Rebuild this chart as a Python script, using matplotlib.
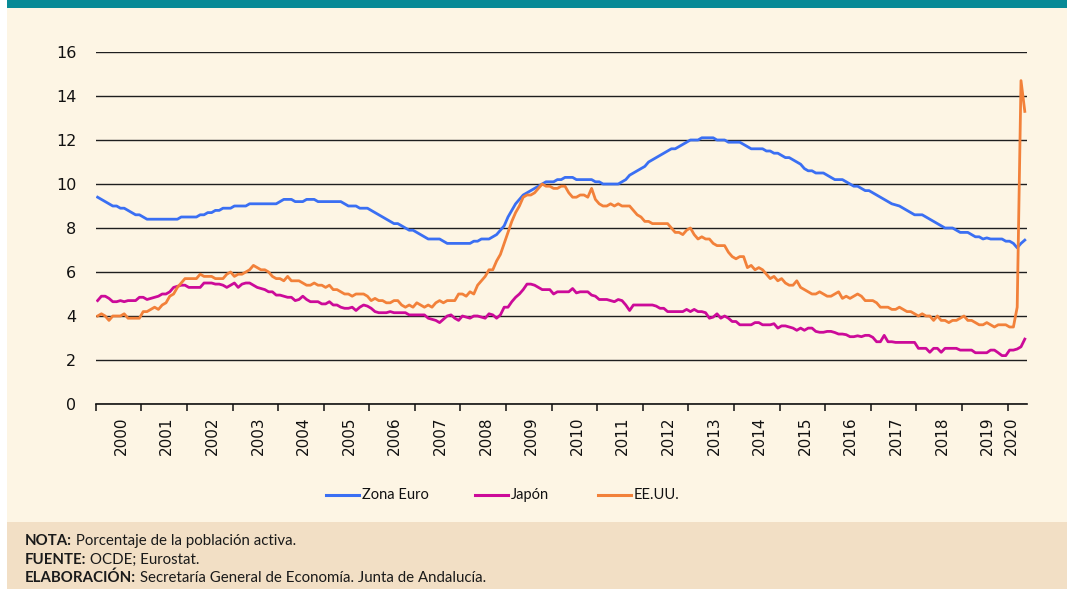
import numpy as np
import matplotlib
matplotlib.use("Agg")
import matplotlib.pyplot as plt
from matplotlib.lines import Line2D
from matplotlib.patches import Rectangle

# ── Data: monthly unemployment rate (% of labour force), Jan 2000 - May 2020 ──
zona_euro = [
    9.4, 9.3, 9.2, 9.1, 9.0, 9.0, 8.9, 8.9, 8.8, 8.7, 8.6, 8.6,        # 2000
    8.5, 8.4, 8.4, 8.4, 8.4, 8.4, 8.4, 8.4, 8.4, 8.4, 8.5, 8.5,        # 2001
    8.5, 8.5, 8.5, 8.6, 8.6, 8.7, 8.7, 8.8, 8.8, 8.9, 8.9, 8.9,        # 2002
    9.0, 9.0, 9.0, 9.0, 9.1, 9.1, 9.1, 9.1, 9.1, 9.1, 9.1, 9.1,        # 2003
    9.2, 9.3, 9.3, 9.3, 9.2, 9.2, 9.2, 9.3, 9.3, 9.3, 9.2, 9.2,        # 2004
    9.2, 9.2, 9.2, 9.2, 9.2, 9.1, 9.0, 9.0, 9.0, 8.9, 8.9, 8.9,        # 2005
    8.8, 8.7, 8.6, 8.5, 8.4, 8.3, 8.2, 8.2, 8.1, 8.0, 7.9, 7.9,        # 2006
    7.8, 7.7, 7.6, 7.5, 7.5, 7.5, 7.5, 7.4, 7.3, 7.3, 7.3, 7.3,        # 2007
    7.3, 7.3, 7.3, 7.4, 7.4, 7.5, 7.5, 7.5, 7.6, 7.7, 7.9, 8.1,        # 2008
    8.5, 8.8, 9.1, 9.3, 9.5, 9.6, 9.7, 9.8, 9.9, 10.0, 10.1, 10.1,     # 2009
    10.1, 10.2, 10.2, 10.3, 10.3, 10.3, 10.2, 10.2, 10.2, 10.2, 10.2, 10.1,  # 2010
    10.1, 10.0, 10.0, 10.0, 10.0, 10.0, 10.1, 10.2, 10.4, 10.5, 10.6, 10.7,  # 2011
    10.8, 11.0, 11.1, 11.2, 11.3, 11.4, 11.5, 11.6, 11.6, 11.7, 11.8, 11.9,  # 2012
    12.0, 12.0, 12.0, 12.1, 12.1, 12.1, 12.1, 12.0, 12.0, 12.0, 11.9, 11.9,  # 2013
    11.9, 11.9, 11.8, 11.7, 11.6, 11.6, 11.6, 11.6, 11.5, 11.5, 11.4, 11.4,  # 2014
    11.3, 11.2, 11.2, 11.1, 11.0, 10.9, 10.7, 10.6, 10.6, 10.5, 10.5, 10.5,  # 2015
    10.4, 10.3, 10.2, 10.2, 10.2, 10.1, 10.0, 9.9, 9.9, 9.8, 9.7, 9.7,       # 2016
    9.6, 9.5, 9.4, 9.3, 9.2, 9.1, 9.05, 9.0, 8.9, 8.8, 8.7, 8.6,            # 2017
    8.6, 8.6, 8.5, 8.4, 8.3, 8.2, 8.1, 8.0, 8.0, 8.0, 7.9, 7.8,             # 2018
    7.8, 7.8, 7.7, 7.6, 7.6, 7.5, 7.55, 7.5, 7.5, 7.5, 7.5, 7.4,            # 2019
    7.4, 7.3, 7.1, 7.3, 7.45,                                               # 2020
]

japon = [
    4.7, 4.9, 4.9, 4.8, 4.65, 4.65, 4.7, 4.65, 4.7, 4.7, 4.7, 4.85,    # 2000
    4.85, 4.75, 4.8, 4.85, 4.9, 5.0, 5.0, 5.1, 5.3, 5.35, 5.4, 5.4,    # 2001
    5.3, 5.3, 5.3, 5.3, 5.5, 5.5, 5.5, 5.45, 5.45, 5.4, 5.3, 5.4,      # 2002
    5.5, 5.3, 5.45, 5.5, 5.5, 5.4, 5.3, 5.25, 5.2, 5.1, 5.1, 4.95,     # 2003
    4.95, 4.9, 4.85, 4.85, 4.7, 4.75, 4.9, 4.75, 4.65, 4.65, 4.65, 4.55,  # 2004
    4.55, 4.65, 4.5, 4.5, 4.4, 4.35, 4.35, 4.4, 4.25, 4.4, 4.5, 4.45,  # 2005
    4.35, 4.2, 4.15, 4.15, 4.15, 4.2, 4.15, 4.15, 4.15, 4.15, 4.05, 4.05,  # 2006
    4.05, 4.05, 4.05, 3.9, 3.85, 3.8, 3.7, 3.85, 4.0, 4.05, 3.9, 3.8,  # 2007
    4.0, 3.95, 3.9, 4.0, 4.0, 3.95, 3.9, 4.1, 4.05, 3.9, 4.05, 4.4,    # 2008
    4.4, 4.65, 4.85, 5.0, 5.2, 5.45, 5.45, 5.4, 5.3, 5.2, 5.2, 5.2,    # 2009
    5.0, 5.1, 5.1, 5.1, 5.1, 5.25, 5.05, 5.1, 5.1, 5.1, 4.95, 4.9,     # 2010
    4.75, 4.75, 4.75, 4.7, 4.65, 4.75, 4.7, 4.5, 4.25, 4.5, 4.5, 4.5,  # 2011
    4.5, 4.5, 4.5, 4.45, 4.35, 4.35, 4.2, 4.2, 4.2, 4.2, 4.2, 4.3,     # 2012
    4.2, 4.3, 4.2, 4.2, 4.15, 3.9, 3.95, 4.1, 3.9, 4.0, 3.9, 3.75,     # 2013
    3.75, 3.6, 3.6, 3.6, 3.6, 3.7, 3.7, 3.6, 3.6, 3.6, 3.65, 3.45,     # 2014
    3.55, 3.55, 3.5, 3.45, 3.35, 3.45, 3.35, 3.45, 3.45, 3.3, 3.26, 3.26,  # 2015
    3.3, 3.3, 3.25, 3.18, 3.18, 3.15, 3.06, 3.06, 3.1, 3.06, 3.12, 3.12,  # 2016
    3.03, 2.83, 2.83, 3.12, 2.83, 2.83, 2.8, 2.8, 2.8, 2.8, 2.8, 2.8,  # 2017
    2.53, 2.53, 2.53, 2.35, 2.53, 2.53, 2.35, 2.53, 2.53, 2.53, 2.53, 2.45,  # 2018
    2.45, 2.45, 2.45, 2.33, 2.33, 2.33, 2.33, 2.45, 2.45, 2.33, 2.2, 2.2,  # 2019
    2.45, 2.45, 2.5, 2.6, 2.95,                                         # 2020
]

eeuu = [
    4.0, 4.1, 4.0, 3.8, 4.0, 4.0, 4.0, 4.1, 3.9, 3.9, 3.9, 3.9,        # 2000
    4.2, 4.2, 4.3, 4.4, 4.3, 4.5, 4.6, 4.9, 5.0, 5.3, 5.5, 5.7,        # 2001
    5.7, 5.7, 5.7, 5.9, 5.8, 5.8, 5.8, 5.7, 5.7, 5.7, 5.9, 6.0,        # 2002
    5.8, 5.9, 5.9, 6.0, 6.1, 6.3, 6.2, 6.1, 6.1, 6.0, 5.8, 5.7,        # 2003
    5.7, 5.6, 5.8, 5.6, 5.6, 5.6, 5.5, 5.4, 5.4, 5.5, 5.4, 5.4,        # 2004
    5.3, 5.4, 5.2, 5.2, 5.1, 5.0, 5.0, 4.9, 5.0, 5.0, 5.0, 4.9,        # 2005
    4.7, 4.8, 4.7, 4.7, 4.6, 4.6, 4.7, 4.7, 4.5, 4.4, 4.5, 4.4,        # 2006
    4.6, 4.5, 4.4, 4.5, 4.4, 4.6, 4.7, 4.6, 4.7, 4.7, 4.7, 5.0,        # 2007
    5.0, 4.9, 5.1, 5.0, 5.4, 5.6, 5.8, 6.1, 6.1, 6.5, 6.8, 7.3,        # 2008
    7.8, 8.3, 8.7, 9.0, 9.4, 9.5, 9.5, 9.6, 9.8, 10.0, 9.9, 9.9,       # 2009
    9.8, 9.8, 9.9, 9.9, 9.6, 9.4, 9.4, 9.5, 9.5, 9.4, 9.8, 9.3,        # 2010
    9.1, 9.0, 9.0, 9.1, 9.0, 9.1, 9.0, 9.0, 9.0, 8.8, 8.6, 8.5,        # 2011
    8.3, 8.3, 8.2, 8.2, 8.2, 8.2, 8.2, 8.0, 7.8, 7.8, 7.7, 7.9,        # 2012
    8.0, 7.7, 7.5, 7.6, 7.5, 7.5, 7.3, 7.2, 7.2, 7.2, 6.9, 6.7,        # 2013
    6.6, 6.7, 6.7, 6.2, 6.3, 6.1, 6.2, 6.1, 5.9, 5.7, 5.8, 5.6,        # 2014
    5.7, 5.5, 5.4, 5.4, 5.6, 5.3, 5.2, 5.1, 5.0, 5.0, 5.1, 5.0,        # 2015
    4.9, 4.9, 5.0, 5.1, 4.8, 4.9, 4.8, 4.9, 5.0, 4.9, 4.7, 4.7,        # 2016
    4.7, 4.6, 4.4, 4.4, 4.4, 4.3, 4.3, 4.4, 4.3, 4.2, 4.2, 4.1,        # 2017
    4.0, 4.1, 4.0, 4.0, 3.8, 4.0, 3.8, 3.8, 3.7, 3.8, 3.8, 3.9,        # 2018
    4.0, 3.8, 3.8, 3.7, 3.6, 3.6, 3.7, 3.6, 3.5, 3.6, 3.6, 3.6,        # 2019
    3.5, 3.5, 4.4, 14.7, 13.3,                                          # 2020
]

years = list(range(2000, 2021))
year_labels = [str(y) for y in years]
series_names = ["Zona Euro", "Japón", "EE.UU."]

# ── Style ─────────────────────────────────────────────────────────────────────
C_EURO = "#3A6FF3"
C_JAP = "#CC0A99"
C_USA = "#F2813A"
C_TEAL = "#078A96"
C_BG = "#FDF5E4"
C_NOTE = "#F2DFC5"
NOTE_FONT = ["Lato", "DejaVu Sans"]

W, H = 1067, 589
fig = plt.figure(figsize=(W / 100, H / 100), dpi=100)
fig.patch.set_facecolor("white")


def fx(px):
    return px / W


def fy(py):
    return 1 - py / H


# background panels
fig.add_artist(Rectangle((fx(7), fy(8)), 1, 8 / H, transform=fig.transFigure,
                         facecolor=C_TEAL, edgecolor="none", zorder=0))
fig.add_artist(Rectangle((fx(7), fy(522)), 1, (522 - 8) / H, transform=fig.transFigure,
                         facecolor=C_BG, edgecolor="none", zorder=0))
fig.add_artist(Rectangle((fx(7), 0), 1, (H - 522) / H, transform=fig.transFigure,
                         facecolor=C_NOTE, edgecolor="none", zorder=0))

# ── Main axes ─────────────────────────────────────────────────────────────────
n = len(zona_euro)
x = 2000 + (np.arange(n) + 0.5) / 12

ax = fig.add_axes([fx(95.7), fy(404), fx(1026.7) - fx(95.7), fy(52) - fy(404)])
ax.set_facecolor("none")
ax.set_xlim(2000, 2000 + n / 12)
ax.set_ylim(0, 16)

ax.plot(x, zona_euro, color=C_EURO, lw=2.0, zorder=3, solid_joinstyle="round")
ax.plot(x, japon, color=C_JAP, lw=2.0, zorder=3, solid_joinstyle="round")
ax.plot(x, eeuu, color=C_USA, lw=2.0, zorder=3, solid_joinstyle="round")

ax.set_yticks(range(0, 17, 2))
ax.yaxis.grid(True, color="#1e1e1e", lw=1.0)
ax.tick_params(axis="y", length=0, pad=14, labelsize=11.5, labelcolor="#111111")
for s in ["left", "top", "right"]:
    ax.spines[s].set_visible(False)
ax.spines["bottom"].set_color("#111111")
ax.spines["bottom"].set_linewidth(1.2)

# year boundaries as ticks, labels centred in each year
ax.set_xticks(years)
ax.set_xticklabels([])
ax.tick_params(axis="x", which="major", direction="out", length=4.8, width=1.1, color="#111111")
label_pos = [y + 0.56 for y in years[:-1]] + [years[-1] + 0.08]
ax.set_xticks(label_pos, labels=year_labels, minor=True)
ax.tick_params(axis="x", which="minor", length=0, pad=9, labelsize=11,
               labelrotation=90, labelcolor="#111111")

# ── Legend ────────────────────────────────────────────────────────────────────
leg_y = fy(495)
for x0, name, col in zip([326, 475, 598], series_names, [C_EURO, C_JAP, C_USA]):
    fig.add_artist(Line2D([fx(x0), fx(x0 + 33)], [leg_y, leg_y], transform=fig.transFigure,
                          color=col, lw=2.2))
    fig.text(fx(x0 + 36), leg_y, name, ha="left", va="center", fontsize=10.5,
             family=NOTE_FONT, color="#111111")

# ── Notes ─────────────────────────────────────────────────────────────────────
notes = [
    ("NOTA:", " Porcentaje de la población activa.", 541),
    ("FUENTE:", " OCDE; Eurostat.", 560),
    ("ELABORACIÓN:", " Secretaría General de Economía. Junta de Andalucía.", 578),
]
renderer = fig.canvas.get_renderer()
for bold, rest, py in notes:
    t = fig.text(fx(25), fy(py), bold, ha="left", va="center", fontsize=10.8,
                 fontweight="bold", family=NOTE_FONT, color="#1a1a1a")
    bb = t.get_window_extent(renderer=renderer)
    fig.text(bb.x1 / W, fy(py), rest, ha="left", va="center", fontsize=10.8,
             family=NOTE_FONT, color="#1a1a1a")

fig.savefig("out.png", dpi=100, facecolor=fig.get_facecolor())
